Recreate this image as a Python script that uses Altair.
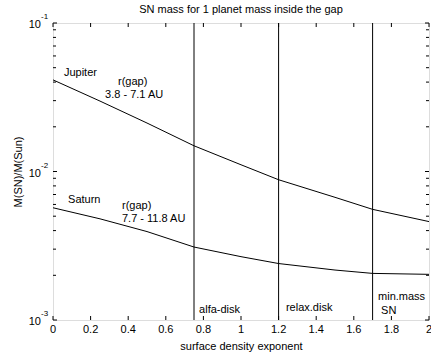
import altair as alt
import pandas as pd

# ---- data ----
title_text = "SN mass for 1 planet mass inside the gap"

x_vals = [0.0, 0.25, 0.5, 0.75, 1.0, 1.2, 1.5, 1.7, 2.0]
jupiter = [0.0414, 0.0298, 0.0212, 0.0149, 0.0111, 0.0088, 0.0067, 0.00556, 0.0046]
saturn = [0.0057, 0.0048, 0.00394, 0.0031, 0.00267, 0.0024, 0.00217, 0.00206, 0.00203]

disk_lines = [0.75, 1.2, 1.7]

x_ticks = [0, 0.2, 0.4, 0.6, 0.8, 1.0, 1.2, 1.4, 1.6, 1.8, 2.0]
x_tick_labels = ["0", "0.2", "0.4", "0.6", "0.8", "1", "1.2", "1.4", "1.6", "1.8", "2"]
y_major = [0.001, 0.01, 0.1]
y_exponents = ["-3", "-2", "-1"]
y_minor = [k * 10.0 ** e for e in (-3, -2) for k in range(2, 10)]

ann_text = ["Jupiter", "r(gap)", "3.8 - 7.1 AU", "Saturn", "r(gap)", "7.7 - 11.8 AU",
            "alfa-disk", "relax.disk", "min.mass", "SN"]
ann_x = [0.058, 0.346, 0.277, 0.08, 0.367, 0.367, 0.777, 1.239, 1.729, 1.745]
ann_y = [0.0462, 0.0402, 0.0330, 0.00643, 0.00585, 0.00478, 0.001167, 0.0012, 0.001428, 0.00115]

W, H = 376, 297
FONT = "Liberation Sans"

curves = pd.DataFrame({
    "x": x_vals * 2,
    "y": jupiter + saturn,
    "series": ["Jupiter"] * len(x_vals) + ["Saturn"] * len(x_vals),
})
vlines = pd.DataFrame({"x": disk_lines})
xt = pd.DataFrame({"x": x_ticks, "lab": x_tick_labels})
ymaj = pd.DataFrame({"y": y_major, "exp": y_exponents})
ymin = pd.DataFrame({"y": y_minor})
ann = pd.DataFrame({"x": ann_x, "y": ann_y, "label": ann_text})
ttl = pd.DataFrame({"t": [title_text]})

xscale = alt.Scale(domain=[0, 2], nice=False, zero=False)
yscale = alt.Scale(type="log", domain=[0.001, 0.1], nice=False)

xaxis = alt.Axis(labels=False, grid=False, ticks=False, domain=False,
                 title="surface density exponent", titleFont=FONT, titleFontSize=11,
                 titleFontWeight="normal", titleColor="black",
                 titleY=26, titleBaseline="middle")
yaxis = alt.Axis(labels=False, ticks=False, domain=False, grid=False,
                 title="M(SN)/M(Sun)", titleFont=FONT, titleFontSize=11,
                 titleFontWeight="normal", titleColor="black",
                 titleX=-35, titleY=H / 2, titleBaseline="middle")

lines = alt.Chart(curves).mark_line(color="black", strokeWidth=1).encode(
    x=alt.X("x:Q", scale=xscale, axis=xaxis),
    y=alt.Y("y:Q", scale=yscale, axis=yaxis),
    detail="series:N",
)

rules = alt.Chart(vlines).mark_rule(color="black", strokeWidth=1).encode(
    x=alt.X("x:Q", scale=xscale)
)

tick_bottom = alt.Chart(xt).mark_rule(color="black", strokeWidth=1).encode(
    x=alt.X("x:Q", scale=xscale), y=alt.value(H), y2=alt.value(H - 4))
tick_top = alt.Chart(xt).mark_rule(color="black", strokeWidth=1).encode(
    x=alt.X("x:Q", scale=xscale), y=alt.value(0), y2=alt.value(4))
xlab = alt.Chart(xt).mark_text(font=FONT, fontSize=11, color="black", align="center",
                               baseline="middle").encode(
    x=alt.X("x:Q", scale=xscale), y=alt.value(H + 10), text="lab:N")

ymaj_l = alt.Chart(ymaj).mark_rule(color="black", strokeWidth=1).encode(
    y=alt.Y("y:Q", scale=yscale), x=alt.value(0), x2=alt.value(4))
ymaj_r = alt.Chart(ymaj).mark_rule(color="black", strokeWidth=1).encode(
    y=alt.Y("y:Q", scale=yscale), x=alt.value(W), x2=alt.value(W - 4))
ymin_l = alt.Chart(ymin).mark_rule(color="black", strokeWidth=1).encode(
    y=alt.Y("y:Q", scale=yscale), x=alt.value(0), x2=alt.value(3))
ymin_r = alt.Chart(ymin).mark_rule(color="black", strokeWidth=1).encode(
    y=alt.Y("y:Q", scale=yscale), x=alt.value(W), x2=alt.value(W - 3))

ten = alt.Chart(ymaj).mark_text(font=FONT, fontSize=11, color="black", align="right",
                                baseline="middle", dy=2).encode(
    y=alt.Y("y:Q", scale=yscale), x=alt.value(-12), text=alt.value("10"))
expo = alt.Chart(ymaj).mark_text(font=FONT, fontSize=8, color="black", align="left",
                                 baseline="middle", dy=-6).encode(
    y=alt.Y("y:Q", scale=yscale), x=alt.value(-12), text="exp:N")

labels = alt.Chart(ann).mark_text(font=FONT, fontSize=11, color="black", align="left",
                                  baseline="middle").encode(
    x=alt.X("x:Q", scale=xscale), y=alt.Y("y:Q", scale=yscale), text="label:N")

title_mark = alt.Chart(ttl).mark_text(font=FONT, fontSize=11, color="black", align="center",
                                      baseline="middle").encode(
    x=alt.value(W / 2), y=alt.value(-13), text="t:N")

chart = alt.layer(
    lines, rules, tick_bottom, tick_top, xlab, ymaj_l, ymaj_r, ymin_l, ymin_r, ten, expo,
    labels, title_mark
).properties(
    width=W, height=H,
    autosize=alt.AutoSizeParams(type="none"),
    padding={"left": 53, "top": 23, "right": 2, "bottom": 38},
).configure_view(stroke="black", strokeWidth=1).configure(background="white")

chart.save("out.html", embed_options={"renderer": "svg", "actions": False})
